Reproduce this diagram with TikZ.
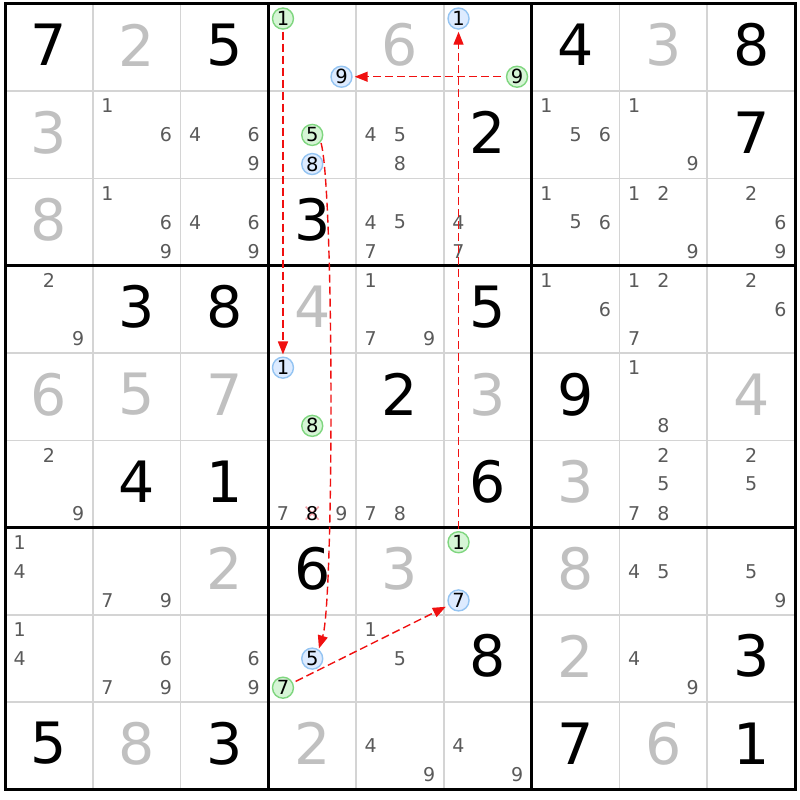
\documentclass[tikz,border=0pt]{standalone}
\usepackage{fontspec}
\setmainfont{DejaVu Sans}
\usetikzlibrary{arrows.meta}
\definecolor{candc}{HTML}{5A5A5A}
\definecolor{solvc}{HTML}{C0C0C0}
\definecolor{thinc}{HTML}{D4D4D4}
\definecolor{gfill}{HTML}{D6F5D6}
\definecolor{gline}{HTML}{7FD67F}
\definecolor{bfill}{HTML}{DDEBFF}
\definecolor{bline}{HTML}{94C4F2}
\definecolor{arrc}{HTML}{F01010}
\definecolor{xc}{HTML}{F5A3AA}
\newcommand\cw{87.78}
\newcommand\ch{87.28}
\newcommand\bigdig[4]{%
  \pgfmathsetmacro\px{5+\cw*(#3-0.5)}%
  \pgfmathsetmacro\py{4+\ch*(#2-0.5)-2.5}%
  \node[#1] (d-#2-#3) at (\px,\py) {#4};}
\newcommand\candpos[3]{%
  \pgfmathsetmacro\px{5+\cw*(#2-1)+\cw*(mod(#3-1,3)+0.5)/3}%
  \pgfmathsetmacro\py{4+\ch*(#1-1)+\ch*(floor((#3-1)/3)+0.5)/3}}
\newcommand\cands[3]{\foreach \d in {#3}{\candpos{#1}{#2}{\d}\node[cnd] (c-#1-#2-\d) at (\px,\py) {\d};}}
\newcommand\ccand[5]{\candpos{#3}{#4}{#5}\node[#1] (#2) at (\px,\py) {#5};}
\tikzset{
  cnd/.style={text=candc, font=\fontsize{19}{19}\selectfont, inner sep=0pt},
  given/.style={text=black, font=\fontsize{57}{57}\selectfont, inner sep=0pt},
  solved/.style={given, text=solvc},
  gcirc/.style={circle, draw=gline, fill=gfill, line width=1.4pt, minimum size=21pt, inner sep=0pt, text=black, font=\fontsize{19.5}{19.5}\selectfont},
  bcirc/.style={gcirc, draw=bline, fill=bfill},
  elim/.style={cnd, text=black},
  xmark/.style={draw=xc, line width=1.6pt},
  thinline/.style={draw=thinc, line width=1.6pt},
  thickline/.style={draw=black, line width=3pt},
  arr/.style={draw=arrc, line width=1.4pt, dash pattern=on 8pt off 4pt, -{Triangle[length=13pt,width=10pt]}}
}
\begin{document}
\begin{tikzpicture}[x=1pt,y=-1pt]
\useasboundingbox (0,0) rectangle (800,800);
\fill[white] (0,0) rectangle (800,800);
% grid
\foreach \i in {1,2,4,5,7,8}{
  \draw[thinline] ({5+\cw*\i},4) -- ({5+\cw*\i},789.5);
  \draw[thinline] (5,{4+\ch*\i}) -- (795,{4+\ch*\i});
}
\foreach \i in {3,6}{
  \draw[thickline] ({5+\cw*\i},4) -- ({5+\cw*\i},789.5);
  \draw[thickline] (5,{4+\ch*\i}) -- (795,{4+\ch*\i});
}
\draw[thickline] (5,4) rectangle (795,789.5);
% givens
\bigdig{given}{1}{1}{7}\bigdig{given}{1}{3}{5}\bigdig{given}{1}{7}{4}\bigdig{given}{1}{9}{8}
\bigdig{given}{2}{6}{2}\bigdig{given}{2}{9}{7}\bigdig{given}{3}{4}{3}
\bigdig{given}{4}{2}{3}\bigdig{given}{4}{3}{8}\bigdig{given}{4}{6}{5}
\bigdig{given}{5}{5}{2}\bigdig{given}{5}{7}{9}
\bigdig{given}{6}{2}{4}\bigdig{given}{6}{3}{1}\bigdig{given}{6}{6}{6}
\bigdig{given}{7}{4}{6}\bigdig{given}{8}{6}{8}\bigdig{given}{8}{9}{3}
\bigdig{given}{9}{1}{5}\bigdig{given}{9}{3}{3}\bigdig{given}{9}{7}{7}\bigdig{given}{9}{9}{1}
% solved
\bigdig{solved}{1}{2}{2}\bigdig{solved}{1}{5}{6}\bigdig{solved}{1}{8}{3}
\bigdig{solved}{2}{1}{3}\bigdig{solved}{3}{1}{8}\bigdig{solved}{4}{4}{4}
\bigdig{solved}{5}{1}{6}\bigdig{solved}{5}{2}{5}\bigdig{solved}{5}{3}{7}\bigdig{solved}{5}{6}{3}\bigdig{solved}{5}{9}{4}
\bigdig{solved}{6}{7}{3}\bigdig{solved}{7}{3}{2}\bigdig{solved}{7}{5}{3}\bigdig{solved}{7}{7}{8}
\bigdig{solved}{8}{7}{2}\bigdig{solved}{9}{2}{8}\bigdig{solved}{9}{4}{2}\bigdig{solved}{9}{8}{6}
% candidates
\cands{2}{2}{1,6}\cands{2}{3}{4,6,9}\cands{2}{5}{4,5,8}\cands{2}{7}{1,5,6}\cands{2}{8}{1,9}
\cands{3}{2}{1,6,9}\cands{3}{3}{4,6,9}\cands{3}{5}{4,5,7}\cands{3}{6}{4,7}\cands{3}{7}{1,5,6}\cands{3}{8}{1,2,9}\cands{3}{9}{2,6,9}
\cands{4}{1}{2,9}\cands{4}{5}{1,7,9}\cands{4}{7}{1,6}\cands{4}{8}{1,2,7}\cands{4}{9}{2,6}
\cands{5}{8}{1,8}
\cands{6}{1}{2,9}\cands{6}{4}{7,9}\cands{6}{5}{7,8}\cands{6}{8}{2,5,7,8}\cands{6}{9}{2,5}
\cands{7}{1}{1,4}\cands{7}{2}{7,9}\cands{7}{8}{4,5}\cands{7}{9}{5,9}
\cands{8}{1}{1,4}\cands{8}{2}{6,7,9}\cands{8}{3}{6,9}\cands{8}{5}{1,5}\cands{8}{8}{4,9}
\cands{9}{5}{4,9}\cands{9}{6}{4,9}
% eliminated candidate
\candpos{6}{4}{8}
\coordinate (xc) at (\px,\py);
\draw[xmark] ([shift={(-6.5,-6.5)}]xc) -- ([shift={(6.5,6.5)}]xc);
\draw[xmark] ([shift={(-6.5,6.5)}]xc) -- ([shift={(6.5,-6.5)}]xc);
\node[elim] (x8) at (xc) {8};
% circled candidates
\ccand{gcirc}{g1a}{1}{4}{1}\ccand{bcirc}{b9}{1}{4}{9}
\ccand{bcirc}{b1b}{1}{6}{1}\ccand{gcirc}{g9}{1}{6}{9}
\ccand{gcirc}{g5}{2}{4}{5}\ccand{bcirc}{b8}{2}{4}{8}
\ccand{bcirc}{b1a}{5}{4}{1}\ccand{gcirc}{g8}{5}{4}{8}
\ccand{gcirc}{g1b}{7}{6}{1}\ccand{bcirc}{b7}{7}{6}{7}
\ccand{bcirc}{b5}{8}{4}{5}\ccand{gcirc}{g7}{8}{4}{7}
% links
\draw[arr, shorten <=2pt, shorten >=2pt] (g1a) -- (b1a);
\draw[arr, shorten <=5pt, shorten >=2pt] (g9) -- (b9);
\draw[arr, shorten <=2pt, shorten >=2pt] (g1b) -- (b1b);
\draw[arr, shorten <=3pt, shorten >=3pt] (g7) -- (b7);
\draw[arr, shorten <=1pt, shorten >=1pt] (g5.-40) .. controls (334,190) and (334,600) .. (b5.55);
\end{tikzpicture}
\end{document}
